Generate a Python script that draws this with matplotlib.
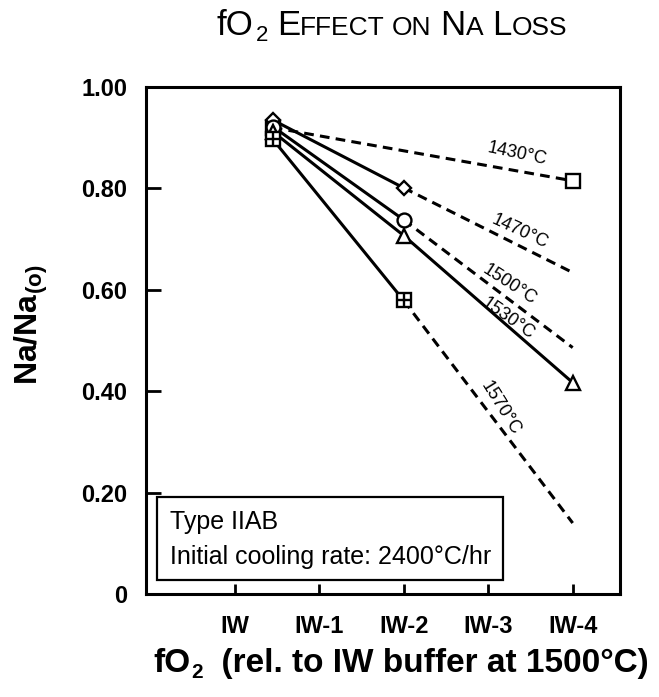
import matplotlib
matplotlib.use("Agg")
import matplotlib.pyplot as plt
from matplotlib.patches import Rectangle
from matplotlib.transforms import IdentityTransform

plt.rcParams['font.family'] = ['Liberation Sans', 'DejaVu Sans']
plt.rcParams['mathtext.fontset'] = 'custom'
plt.rcParams['mathtext.rm'] = 'Liberation Sans'
plt.rcParams['mathtext.bf'] = 'Liberation Sans:bold'
plt.rcParams['lines.scale_dashes'] = False

# ---------------- data ----------------
x_tick_pos = [0, 1, 2, 3, 4]
x_tick_labels = ['IW', 'IW-1', 'IW-2', 'IW-3', 'IW-4']
y_tick_pos = [0, 0.2, 0.4, 0.6, 0.8, 1.0]
y_tick_labels = ['0', '0.20', '0.40', '0.60', '0.80', '1.00']

x_start = 0.45
x_mid = 2
x_end = 4

temps = ['1430°C', '1470°C', '1500°C', '1530°C', '1570°C']
na_start = [0.920, 0.935, 0.922, 0.912, 0.897]
na_mid = [None, 0.801, 0.738, 0.707, 0.579]     # measured at IW-2
na_end = [0.815, 0.634, 0.486, 0.417, 0.140]    # at IW-4
end_measured = [True, False, False, True, False]
markers = ['s', 'D', 'o', '^', 'sq+']

# ---------------- figure ----------------
W, H = 659, 697
fig = plt.figure(figsize=(W / 100, H / 100), dpi=100)
L, R, T, B = 146, 620, 87, 594
ax = fig.add_axes([L / W, 1 - B / H, (R - L) / W, (B - T) / H])
ax.set_xlim(-1.05, 4.56)
ax.set_ylim(0, 1.0)

lw = 2.2
ms_kw = dict(markerfacecolor='white', markeredgecolor='black', markeredgewidth=1.7)
msize = {'s': 10, 'D': 7.5, 'o': 10, '^': 10.5}
dash = (7, 4.5)


def draw_marker(x, y, m, z=5):
    if m == 'sq+':
        ax.plot([x], [y], 's', markersize=10, zorder=z, **ms_kw)
        ax.plot([x], [y], '+', markersize=10, markeredgewidth=1.7,
                color='black', zorder=z + 0.1)
    else:
        ax.plot([x], [y], m, markersize=msize[m], zorder=z, **ms_kw)


for i, t in enumerate(temps):
    if na_mid[i] is None:
        ax.plot([x_start, x_end], [na_start[i], na_end[i]], color='black',
                lw=lw, linestyle=(0, dash), zorder=3)
    else:
        ax.plot([x_start, x_mid], [na_start[i], na_mid[i]], color='black',
                lw=lw, solid_capstyle='butt', zorder=3)
        if end_measured[i]:
            ax.plot([x_mid, x_end], [na_mid[i], na_end[i]], color='black',
                    lw=lw, zorder=3)
        else:
            ax.plot([x_mid, x_end], [na_mid[i], na_end[i]], color='black',
                    lw=lw, linestyle=(0, dash), zorder=3)
        draw_marker(x_mid, na_mid[i], markers[i])
    if end_measured[i]:
        draw_marker(x_end, na_end[i], markers[i])

for i in [0, 4, 3, 2, 1]:
    draw_marker(x_start, na_start[i], markers[i], z=6 + i * 0.01)

# temperature labels along lines
lab_pos = [(3.34, 0.868, -12), (3.37, 0.715, -25), (3.25, 0.610, -33),
           (3.23, 0.543, -35), (3.14, 0.366, -58)]
for t, (lx, ly, rot) in zip(temps, lab_pos):
    ax.text(lx, ly, t, fontsize=13, rotation=rot, ha='center', va='center',
            rotation_mode='anchor', zorder=7)

# info box
ax.add_patch(Rectangle((-0.92, 0.028), 4.09, 0.163, fill=False,
                       edgecolor='black', lw=1.6, zorder=4))
ax.text(-0.77, 0.142, 'Type IIAB', fontsize=18, va='center', ha='left')
ax.text(-0.77, 0.073, 'Initial cooling rate: 2400°C/hr', fontsize=18,
        va='center', ha='left')

# axes styling
for s in ax.spines.values():
    s.set_linewidth(2.2)
ax.set_xticks(x_tick_pos)
ax.set_xticklabels(x_tick_labels, fontsize=17, fontweight='bold')
ax.set_yticks(y_tick_pos)
ax.set_yticklabels(y_tick_labels, fontsize=17, fontweight='bold')
ax.tick_params(axis='x', direction='in', length=7, width=2.0, pad=15)
ax.tick_params(axis='y', direction='in', length=10.5, width=2.0, pad=13.5)

# ---------------- text runs in pixel coordinates ----------------
renderer = fig.canvas.get_renderer()
ident = IdentityTransform()


def run(pieces, x0, baseline, center=False, weight='normal'):
    objs = []
    total = 0
    for s, size, dy, gap in pieces:
        tx = fig.text(0, 0, s, fontsize=size, fontweight=weight,
                      ha='left', va='baseline', transform=ident)
        w = tx.get_window_extent(renderer).width
        objs.append((tx, w, dy, gap))
        total += w + gap
    x = x0 - total / 2 if center else x0
    for tx, w, dy, gap in objs:
        tx.set_position((x, baseline + dy))
        x += w + gap


big, small = 25, 19
run([('fO', big, 0, 2), ('2', 16, -6, 9), ('E', big, 0, 0),
     ('FFECT', small, 0, 7), ('ON', small, 0, 9), ('N', big, 0, 0),
     ('A', small, 0, 9), ('L', big, 0, 0), ('OSS', small, 0, 0)],
    392, H - 35, center=True)

run([('fO', 24, 0, 1), ('2', 15, -6, 0),
     ('  (rel. to IW buffer at 1500°C)', 24, 0, 0)],
    153, H - 672, weight='bold')

fig.text(31, H - 325, r'Na/Na$_{\mathbf{(o)}}$', fontsize=23,
         fontweight='bold', rotation=90, ha='center', va='center',
         transform=ident)

fig.savefig('out.png', dpi=100)
